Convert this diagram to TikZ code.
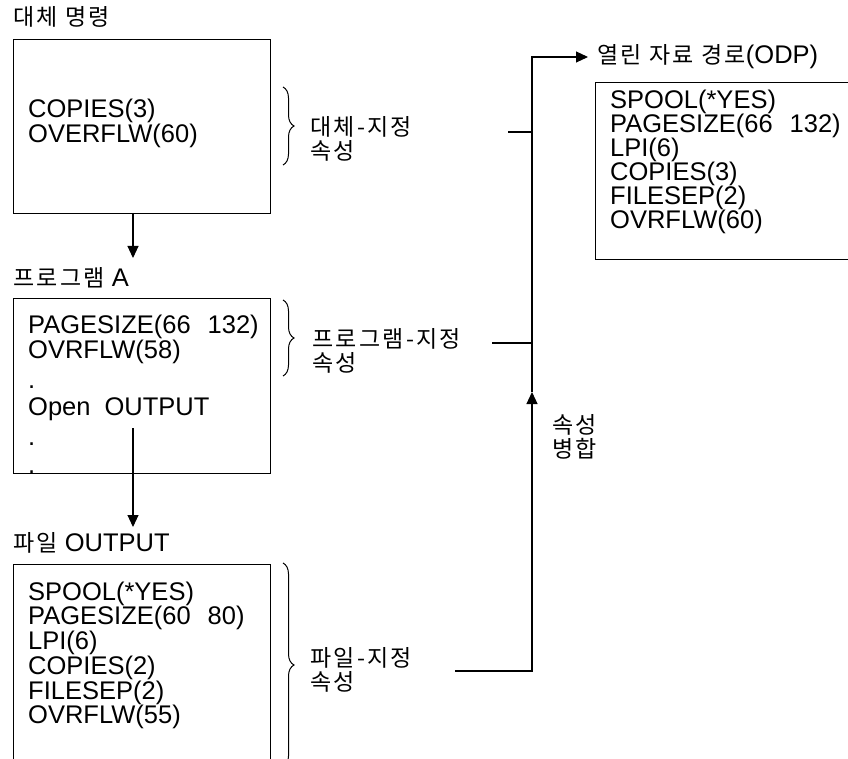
\documentclass[tikz,border=0pt]{standalone}
\usepackage{fontspec}
\setmainfont{Liberation Sans}
\newfontfamily\kr[LetterSpace=10]{Noto Sans CJK KR}
\usetikzlibrary{arrows.meta,decorations.pathreplacing}
\tikzset{
  box/.style={draw, line width=1.3pt, inner sep=0pt, anchor=north west},
  entry/.style={inner sep=0pt, anchor=north west, align=left, font=\fontsize{25.5}{23.4}\selectfont},
  krlabel/.style={inner sep=0pt, anchor=west, align=left, font=\kr\fontsize{23}{24}\selectfont},
  title/.style={inner sep=0pt, anchor=west, font=\fontsize{25.5}{26}\selectfont},
  conn/.style={line width=1.1pt},
  arr/.style={conn, -{Triangle[length=12pt,width=11pt]}},
  bracestyle/.style={line width=1pt, decorate, decoration={brace, amplitude=11pt}},
}
\newcommand{\gap}{\hspace{17pt}}
\newcommand{\krt}{\kr\fontsize{23}{24}\selectfont}
\begin{document}
\begin{tikzpicture}[x=1pt,y=-1pt]
\clip (0,0) rectangle (848,759);
\fill[white] (0,0) rectangle (848,759);

% titles
\node[title] (t1) at (13,17) {\krt 대체 명령};
\node[title] (t2) at (13,278) {{\krt 프로그램} A};
\node[title] (t3) at (13,543) {{\krt 파일} OUTPUT};
\node[title] (t4) at (597,57) {{\krt 열린 자료 경로}(ODP)};

% boxes
\node[box, minimum width=257pt, minimum height=174pt] (b1) at (13,39) {};
\node[box, minimum width=257pt, minimum height=175pt] (b2) at (13,298) {};
\node[box, minimum width=257pt, minimum height=230pt] (b3) at (13,564) {};
\node[box, minimum width=270pt, minimum height=177pt] (b4) at (595,82) {};

% box contents
\node[entry, font=\fontsize{25.5}{25}\selectfont] (e1) at (28,98.5) {COPIES(3)\\OVERFLW(60)};
\node[entry, font=\fontsize{25.5}{25}\selectfont] (e2) at (28,314.5) {PAGESIZE(66\gap 132)\\OVRFLW(58)\\[5pt].\\[2pt]Open\hspace{14pt}OUTPUT\\[5pt].\\[3pt].};
\node[entry] (e3) at (28,581.5) {SPOOL(*YES)\\PAGESIZE(60\gap 80)\\LPI(6)\\COPIES(2)\\FILESEP(2)\\OVRFLW(55)};
\node[entry, font=\fontsize{25.5}{24}\selectfont] (e4) at (610,89.5) {SPOOL(*YES)\\PAGESIZE(66\gap 132)\\LPI(6)\\COPIES(3)\\FILESEP(2)\\OVRFLW(60)};

% braces
\draw[bracestyle] (283,87) -- (283,165);
\draw[bracestyle] (283,300) -- (283,376);
\draw[bracestyle] (283,563) -- (283,767);

% brace labels
\node[krlabel] (l1) at (310,139) {대체-지정\\속성};
\node[krlabel] (l2) at (312,351) {프로그램-지정\\속성};
\node[krlabel] (l3) at (310,669.5) {파일-지정\\속성};
\node[krlabel] (l4) at (552,436.5) {속성\\병합};

% vertical arrows between boxes
\coordinate (a1s) at (133,213);
\coordinate (a1e) at (133,258);
\draw[arr] (a1s) -- (a1e);
\coordinate (a2s) at (133,428);
\coordinate (a2e) at (133,527);
\draw[arr] (a2s) -- (a2e);

% merge lines
\coordinate (j1) at (508,132);
\coordinate (j2) at (492,343);
\coordinate (j3) at (455,671);
\coordinate (c3) at (532,671);
\coordinate (mid) at (532,392);
\coordinate (ctop) at (532,57);
\coordinate (odpin) at (588,57);
\draw[arr] (j3) -- (c3) -- (mid);
\draw[arr] (mid) -- (ctop) -- (odpin);
\draw[conn] (j1) -- (j1 -| ctop);
\draw[conn] (j2) -- (j2 -| ctop);
\end{tikzpicture}
\end{document}
